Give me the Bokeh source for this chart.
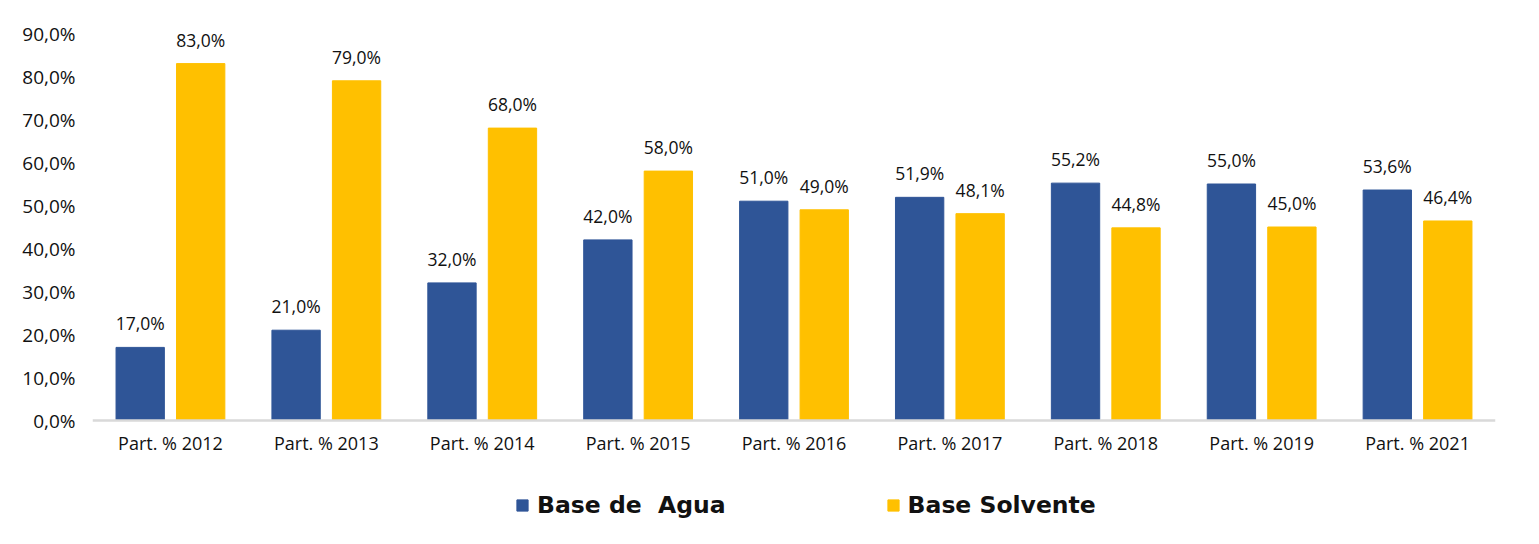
from bokeh.plotting import figure
from bokeh.models import ColumnDataSource, FactorRange, Range1d, FixedTicker, Legend, LegendItem
from bokeh.transform import dodge
from bokeh.core.properties import value
from bokeh.embed import file_html
from bokeh.resources import INLINE

categories = ["Part. % 2012", "Part. % 2013", "Part. % 2014", "Part. % 2015", "Part. % 2016",
              "Part. % 2017", "Part. % 2018", "Part. % 2019", "Part. % 2021"]
base_agua = [17.0, 21.0, 32.0, 42.0, 51.0, 51.9, 55.2, 55.0, 53.6]
base_solvente = [83.0, 79.0, 68.0, 58.0, 49.0, 48.1, 44.8, 45.0, 46.4]
y_ticks = [0, 10, 20, 30, 40, 50, 60, 70, 80, 90]
y_tick_labels = ["0,0%", "10,0%", "20,0%", "30,0%", "40,0%", "50,0%", "60,0%", "70,0%", "80,0%", "90,0%"]
series_names = ["Base de  Agua", "Base Solvente"]

def fmt(v):
    return f"{v:.1f}".replace(".", ",") + "%"

src = ColumnDataSource(dict(
    cat=categories,
    agua=base_agua,
    solv=base_solvente,
    agua_lbl=[fmt(v) for v in base_agua],
    solv_lbl=[fmt(v) for v in base_solvente],
))

BLUE = "#2F5597"
YELLOW = "#FFC000"
FONT = "Open Sans"
TXT = "#111111"

W, H = 1530, 536
TOP, AXIS_Y = 33, 420          # pixel rows of the 90 % line and of the zero line
Y_MAX = 90
y_min = -Y_MAX * (H - AXIS_Y) / (AXIS_Y - TOP)   # frame reaches down to the legend row

p = figure(width=W, height=H, x_range=FactorRange(*categories), y_range=Range1d(y_min, Y_MAX),
           output_backend="svg", toolbar_location=None,
           min_border_left=92, min_border_right=35, min_border_top=TOP, min_border_bottom=0)
p.x_range.range_padding = 0
p.outline_line_color = None
p.xgrid.grid_line_color = None
p.ygrid.grid_line_color = None
p.background_fill_color = "white"

off = 0.194
bw = 0.31
r1 = p.vbar(x=dodge("cat", -off, range=p.x_range), top="agua", bottom=0, width=bw, source=src,
            fill_color=BLUE, line_color=BLUE)
r2 = p.vbar(x=dodge("cat", off, range=p.x_range), top="solv", bottom=0, width=bw, source=src,
            fill_color=YELLOW, line_color=YELLOW)

p.text(x=dodge("cat", -off, range=p.x_range), y="agua", text="agua_lbl", source=src,
       text_align="center", text_baseline="middle", y_offset=-24,
       text_font=value(FONT), text_font_size="17.5px", text_color=TXT)
p.text(x=dodge("cat", off, range=p.x_range), y="solv", text="solv_lbl", source=src,
       text_align="center", text_baseline="middle", y_offset=-24,
       text_font=value(FONT), text_font_size="17.5px", text_color=TXT)

# x axis, pinned at zero
xa = p.xaxis[0]
xa.fixed_location = 0
xa.axis_line_color = "#D9D9D9"
xa.axis_line_width = 2.5
xa.major_tick_line_color = None
xa.minor_tick_line_color = None
xa.major_tick_in = 0
xa.major_tick_out = 0
xa.major_label_standoff = 10
xa.major_label_text_font = FONT
xa.major_label_text_font_size = "18px"
xa.major_label_text_color = TXT

# y axis
ya = p.yaxis[0]
ya.ticker = FixedTicker(ticks=y_ticks)
ya.major_label_overrides = {t: l for t, l in zip(y_ticks, y_tick_labels)}
ya.axis_line_color = None
ya.major_tick_line_color = None
ya.minor_tick_line_color = None
ya.major_tick_in = 0
ya.major_tick_out = 0
ya.major_label_standoff = 17
ya.major_label_text_font = FONT
ya.major_label_text_font_size = "19px"
ya.major_label_text_color = TXT

legend = Legend(items=[LegendItem(label=series_names[0], renderers=[r1]),
                       LegendItem(label=series_names[1], renderers=[r2])],
                orientation="horizontal", location=(423, 17),
                glyph_width=14, glyph_height=14, label_standoff=8, spacing=160,
                padding=0, margin=0, border_line_color=None, background_fill_alpha=0,
                label_text_font="DejaVu Sans", label_text_font_style="bold",
                label_text_font_size="23.5px", label_text_color=TXT)
p.add_layout(legend, "center")

open("out.html", "w").write(file_html(p, INLINE))
